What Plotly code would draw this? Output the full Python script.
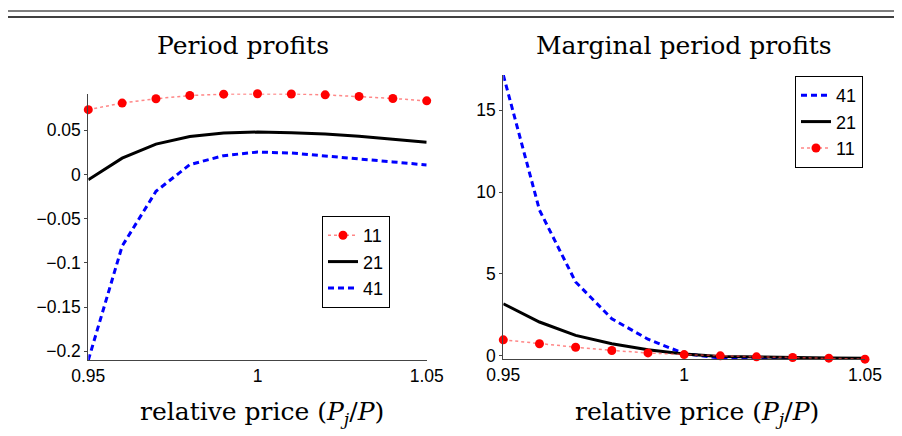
import plotly.graph_objects as go

# the page body has an 8px default margin, so the figure is drawn offset by 8px
OFF = 8
W, H = 902 - OFF, 436 - OFF

# ---- data ----
price = [0.95, 0.96, 0.97, 0.98, 0.99, 1.00, 1.01, 1.02, 1.03, 1.04, 1.05]

profit_11 = [0.0733, 0.0808, 0.0857, 0.0893, 0.0909, 0.0913, 0.0911, 0.0901, 0.0883, 0.0860, 0.0833]
profit_21 = [-0.0060, 0.0185, 0.0344, 0.0430, 0.0468, 0.0480, 0.0472, 0.0457, 0.0432, 0.0402, 0.0364]
profit_41 = [-0.2100, -0.0810, -0.0190, 0.0112, 0.0213, 0.0254, 0.0243, 0.0213, 0.0176, 0.0142, 0.0108]

marg_41 = [17.16, 8.9, 4.5, 2.25, 1.0, 0.12, -0.15, -0.19, -0.21, -0.22, -0.23]
marg_21 = [3.17, 2.05, 1.23, 0.72, 0.35, 0.10, -0.06, -0.10, -0.13, -0.15, -0.17]
marg_11 = [0.96, 0.72, 0.51, 0.31, 0.16, 0.06, -0.02, -0.08, -0.12, -0.16, -0.22]

xtick_vals = [0.95, 1.0, 1.05]
xtick_text = ["0.95", "1", "1.05"]
ytick_left_vals = [-0.2, -0.15, -0.1, -0.05, 0, 0.05]
ytick_left_text = ["\u22120.2", "\u22120.15", "\u22120.1", "\u22120.05", "0", "0.05"]
ytick_right_vals = [0, 5, 10, 15]
ytick_right_text = ["0", "5", "10", "15"]

titles = ["Period profits", "Marginal period profits"]
xlabel = "relative price (<i>P<sub>j</sub></i>/<i>P</i>)"

# ---- styles ----
red_line = dict(color="rgba(255,70,70,0.65)", width=1.5, dash="dot")
red_marker = dict(color="red", size=9, symbol="circle")
black_line = dict(color="black", width=3)
blue_line = dict(color="#0000ff", width=3, dash="6px,4px")

fig = go.Figure()

# left panel
fig.add_trace(go.Scatter(x=price, y=profit_11, name="11", mode="lines+markers",
                         line=red_line, marker=red_marker, xaxis="x", yaxis="y",
                         legend="legend", cliponaxis=False))
fig.add_trace(go.Scatter(x=price, y=profit_21, name="21", mode="lines",
                         line=black_line, xaxis="x", yaxis="y", legend="legend"))
fig.add_trace(go.Scatter(x=price, y=profit_41, name="41", mode="lines",
                         line=blue_line, xaxis="x", yaxis="y", legend="legend"))

# right panel
fig.add_trace(go.Scatter(x=price, y=marg_41, name="41", mode="lines",
                         line=blue_line, xaxis="x2", yaxis="y2", legend="legend2"))
fig.add_trace(go.Scatter(x=price, y=marg_21, name="21", mode="lines",
                         line=black_line, xaxis="x2", yaxis="y2", legend="legend2"))
fig.add_trace(go.Scatter(x=price, y=marg_11, name="11", mode="lines+markers",
                         line=red_line, marker=red_marker, xaxis="x2", yaxis="y2",
                         legend="legend2", cliponaxis=False))

tickfont = dict(family="Liberation Sans, Arial, sans-serif", size=17.5, color="black")
axis_common = dict(showgrid=False, zeroline=False, showline=True, linecolor="#444",
                   linewidth=1, tickcolor="#444",
                   tickfont=tickfont, mirror=False, automargin=False)
x_ticks = dict(ticks="")
y_ticks = dict(ticks="outside", ticklen=3)

def px_x(p):
    return (p - OFF) / W

def px_y(p):
    return 1 - (p - OFF) / H

legend_font = dict(family="Liberation Sans, Arial, sans-serif", size=18, color="black")

fig.update_layout(
    width=W, height=H,
    margin=dict(l=0, r=0, t=0, b=0, pad=0, autoexpand=False),
    paper_bgcolor="white", plot_bgcolor="white",
    showlegend=True,
    xaxis=dict(domain=[px_x(88.3), px_x(426.7)], range=[0.95, 1.05], anchor="y",
               tickvals=xtick_vals, ticktext=xtick_text, **x_ticks, **axis_common),
    yaxis=dict(domain=[px_y(360), px_y(93.6)], range=[-0.2098, 0.0915], anchor="x",
               tickvals=ytick_left_vals, ticktext=ytick_left_text, **y_ticks, **axis_common),
    xaxis2=dict(domain=[px_x(503.3), px_x(865)], range=[0.95, 1.05], anchor="y2",
                tickvals=xtick_vals, ticktext=xtick_text, **x_ticks, **axis_common),
    yaxis2=dict(domain=[px_y(359.3), px_y(75)], range=[-0.23, 17.16], anchor="x2",
                tickvals=ytick_right_vals, ticktext=ytick_right_text, **y_ticks, **axis_common),
    legend=dict(x=px_x(390), y=px_y(216), xanchor="right", yanchor="top",
                bgcolor="white", bordercolor="black", borderwidth=1, font=legend_font,
                tracegroupgap=0, itemwidth=30, traceorder="normal"),
    legend2=dict(x=px_x(863), y=px_y(76), xanchor="right", yanchor="top",
                 bgcolor="white", bordercolor="black", borderwidth=1, font=legend_font,
                 tracegroupgap=0, itemwidth=30, traceorder="normal"),
)

serif = "DejaVu Serif, Liberation Serif, serif"
annotations = [
    dict(text=titles[0], x=px_x(243.5), y=px_y(45)),
    dict(text=titles[1], x=px_x(683.5), y=px_y(45)),
    dict(text=xlabel, x=px_x(262), y=px_y(413)),
    dict(text=xlabel, x=px_x(697), y=px_y(413)),
]
for a in annotations:
    fig.add_annotation(xref="paper", yref="paper", xanchor="center", yanchor="middle",
                       showarrow=False, font=dict(family=serif, size=25, color="black"), **a)

# double rule at the top
for yy, col in [(11, "#555"), (17, "black")]:
    fig.add_shape(type="line", xref="paper", yref="paper",
                  x0=0.0, x1=1.0, y0=px_y(yy), y1=px_y(yy),
                  line=dict(color=col, width=1.5))

fig.write_html("out.html")
